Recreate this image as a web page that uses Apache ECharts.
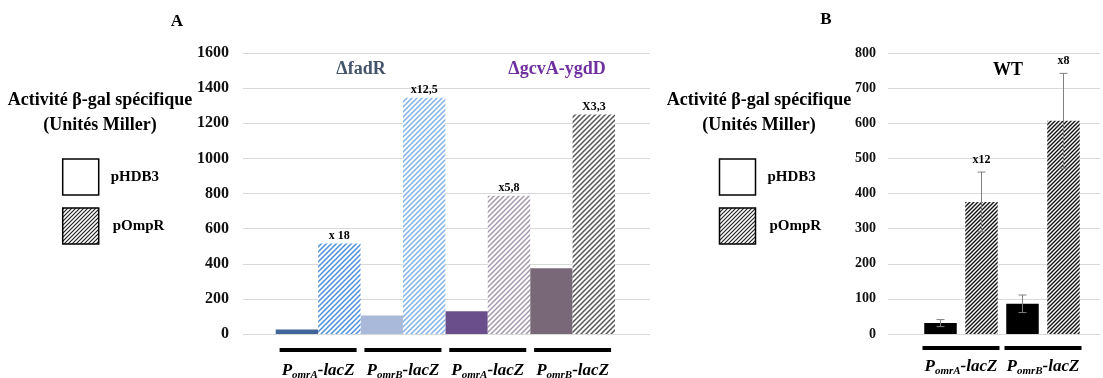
<!DOCTYPE html>
<html><head><meta charset="utf-8">
<script src="https://cdn.jsdelivr.net/npm/echarts@6/dist/echarts.min.js"></script>
<style>html,body{margin:0;padding:0;background:#fff}#c{width:1103px;height:378px}</style>
</head><body><div id="c"></div>
<script>
// ---- Panel A data ----
const aPromoters = ['omrA', 'omrB', 'omrA', 'omrB'];
const aPHDB3 = [25, 105, 130, 375];
const aPOmpR = [515, 1345, 787, 1250];
const aFold = ['x 18', 'x12,5', 'x5,8', 'X3,3'];
const aYTicks = [0, 1600, 200];
const aStrains = ['\u0394fadR', '\u0394gcvA-ygdD'];
// ---- Panel B data ----
const bPromoters = ['omrA', 'omrB'];
const bPHDB3 = [31, 86];
const bPHDB3Err = [10, 25];
const bPOmpR = [376, 607];
const bPOmpRErr = [85, 135];
const bFold = ['x12', 'x8'];
const bYTicks = [0, 800, 100];
const bStrain = 'WT';
const yTitle = ['Activit\u00e9 \u03b2-gal sp\u00e9cifique', '(Unit\u00e9s Miller)'];
const legendNames = ['pHDB3', 'pOmpR'];

const FONT = "'Liberation Serif','Times New Roman',serif";
const aSolid = ['#41649b', '#a9b9d9', '#6a4e8b', '#786878'];
const aHatchCol = ['#4a8fda', '#80b1e5', '#a398ae', '#555555'];

function hatch(color, s, lw) {
  const c = document.createElement('canvas');
  c.width = s; c.height = s;
  const ctx = c.getContext('2d');
  ctx.fillStyle = '#fff'; ctx.fillRect(0, 0, s, s);
  ctx.strokeStyle = color; ctx.lineWidth = lw;
  ctx.beginPath();
  ctx.moveTo(-1, 1); ctx.lineTo(1, -1);
  ctx.moveTo(0, s); ctx.lineTo(s, 0);
  ctx.moveTo(s - 1, s + 1); ctx.lineTo(s + 1, s - 1);
  ctx.stroke();
  return {image: c, repeat: 'repeat'};
}

const chart = echarts.init(document.getElementById('c'), null, {renderer: 'canvas'});

function xLabelRich(lh) {
  return {
    u: {width: 77, height: 4, backgroundColor: '#000', lineHeight: 4},
    P: {fontFamily: FONT, fontWeight: 'bold', fontStyle: 'italic', fontSize: 17, color: '#000', lineHeight: lh},
    s: {fontFamily: FONT, fontWeight: 'bold', fontStyle: 'italic', fontSize: 11, color: '#000', lineHeight: lh, padding: [9, 0, 0, 0]},
    t: {fontFamily: FONT, fontWeight: 'bold', fontStyle: 'italic', fontSize: 17, color: '#000', lineHeight: lh}
  };
}
const xFmt = v => '{u|\u00a0}\n{P|P}{s|' + v + '}{t|-lacZ}';

const gridLine = {show: true, lineStyle: {color: '#d9d9d9', width: 1.2}};

// Panel B bars (4 slots)
const bVals = [], bErrs = [], bLabs = [], bItems = [];
bPromoters.forEach((p, i) => {
  bVals.push(bPHDB3[i], bPOmpR[i]);
  bErrs.push(bPHDB3Err[i], bPOmpRErr[i]);
  bLabs.push('', bFold[i]);
});
const bHatch = hatch('#111', 4, 1.4);
bVals.forEach((v, k) => bItems.push({value: v, itemStyle: {color: k % 2 ? bHatch : '#000'}}));

function textG(x, y, text, size, color, align) {
  return {type: 'text', x: x, y: y, style: {text: text, font: 'bold ' + size + 'px ' + FONT, fill: color || '#000', align: align || 'center', verticalAlign: 'middle'}};
}
function legendG(ox, cx) {
  return [
    textG(cx, 100, yTitle[0], 18),
    textG(cx, 125, yTitle[1], 18),
    {type: 'rect', shape: {x: ox, y: 159, width: 36, height: 36}, style: {fill: '#fff', stroke: '#000', lineWidth: 1.5}},
    {type: 'rect', shape: {x: ox, y: 208, width: 36, height: 36}, style: {fill: hatch('#222', 4, 1.2), stroke: '#000', lineWidth: 1.5}},
    textG(ox + 48, 177, legendNames[0], 15, '#000', 'left'),
    textG(ox + 50, 226, legendNames[1], 15, '#000', 'left')
  ];
}
const plain = v => String(v);
const G = {top: 53, bottom: 44, containLabel: false, outerBoundsMode: 'none'};

const option = {
  animation: false,
  backgroundColor: '#fff',
  grid: [
    Object.assign({left: 243, right: 453}, G),
    Object.assign({left: 275.7, right: 488}, G),
    Object.assign({left: 888, right: 3}, G),
    Object.assign({left: 920, right: 19}, G)
  ],
  xAxis: [
    {gridIndex: 0, type: 'category', data: [''], show: false},
    {gridIndex: 1, type: 'category', data: aPromoters, axisLine: {show: false}, axisTick: {show: false},
      axisLabel: {margin: 14, formatter: xFmt, rich: xLabelRich(38), interval: 0}},
    {gridIndex: 2, type: 'category', data: [''], show: false},
    {gridIndex: 3, type: 'category', data: bVals.map((v, k) => k), show: false, position: 'bottom'},
    {gridIndex: 3, type: 'category', position: 'bottom', data: bPromoters, axisLine: {show: false}, axisTick: {show: false},
      axisLabel: {margin: 12, formatter: xFmt, rich: xLabelRich(34), interval: 0}}
  ],
  yAxis: [
    {gridIndex: 0, type: 'value', min: aYTicks[0], max: aYTicks[1], interval: aYTicks[2], axisLine: {show: false}, axisTick: {show: false},
      splitLine: gridLine, axisLabel: {margin: 14, formatter: plain, fontFamily: FONT, fontWeight: 'bold', fontSize: 16, color: '#111'}},
    {gridIndex: 1, type: 'value', min: aYTicks[0], max: aYTicks[1], interval: aYTicks[2], show: false, splitLine: {show: false}},
    {gridIndex: 2, type: 'value', min: bYTicks[0], max: bYTicks[1], interval: bYTicks[2], axisLine: {show: false}, axisTick: {show: false},
      splitLine: gridLine, axisLabel: {margin: 12, formatter: plain, fontFamily: FONT, fontWeight: 'bold', fontSize: 14, color: '#111'}},
    {gridIndex: 3, type: 'value', min: bYTicks[0], max: bYTicks[1], interval: bYTicks[2], show: false, splitLine: {show: false}}
  ],
  series: [
    {name: legendNames[0], type: 'bar', xAxisIndex: 1, yAxisIndex: 1, barGap: '0%', barCategoryGap: '0%',
      data: aPHDB3.map((v, i) => ({value: v, itemStyle: {color: aSolid[i]}}))},
    {name: legendNames[1], type: 'bar', xAxisIndex: 1, yAxisIndex: 1, barGap: '0%', barCategoryGap: '0%',
      data: aPOmpR.map((v, i) => ({value: v, itemStyle: {color: hatch(aHatchCol[i], 5, 1.5)}})),
      label: {show: true, position: 'top', distance: 2, formatter: p => aFold[p.dataIndex],
        fontFamily: FONT, fontWeight: 'bold', fontSize: 12, color: '#000'}},
    {type: 'bar', xAxisIndex: 3, yAxisIndex: 3, barWidth: 32.5, data: bItems},
    {type: 'custom', xAxisIndex: 3, yAxisIndex: 3, z: 5,
      data: bVals.map((v, k) => [k, v, bErrs[k]]),
      renderItem: function (params, api) {
        const k = api.value(0), v = api.value(1), e = api.value(2);
        const top = api.coord([k, v + e]);
        const bot = api.coord([k, v - e]);
        const hw = 4;
        const st = {stroke: '#808080', lineWidth: 1};
        const children = [
          {type: 'line', shape: {x1: top[0], y1: top[1], x2: bot[0], y2: bot[1]}, style: st},
          {type: 'line', shape: {x1: top[0] - hw, y1: top[1], x2: top[0] + hw, y2: top[1]}, style: st},
          {type: 'line', shape: {x1: bot[0] - hw, y1: bot[1], x2: bot[0] + hw, y2: bot[1]}, style: st}
        ];
        const lab = bLabs[params.dataIndex];
        if (lab) children.push({type: 'text', x: top[0], y: top[1] - 6,
          style: {text: lab, font: 'bold 12px ' + FONT, fill: '#000', align: 'center', verticalAlign: 'bottom'}});
        return {type: 'group', children: children};
      }}
  ],
  graphic: [
    textG(177, 22, 'A', 17),
    textG(826, 20, 'B', 17),
    textG(361, 69, aStrains[0], 18, '#44546a'),
    textG(557, 69, aStrains[1], 18, '#7030a0'),
    textG(1008, 70, bStrain, 18, '#000')
  ].concat(legendG(62.7, 100), legendG(719.5, 759))
};
chart.setOption(option);
</script>
</body></html>
